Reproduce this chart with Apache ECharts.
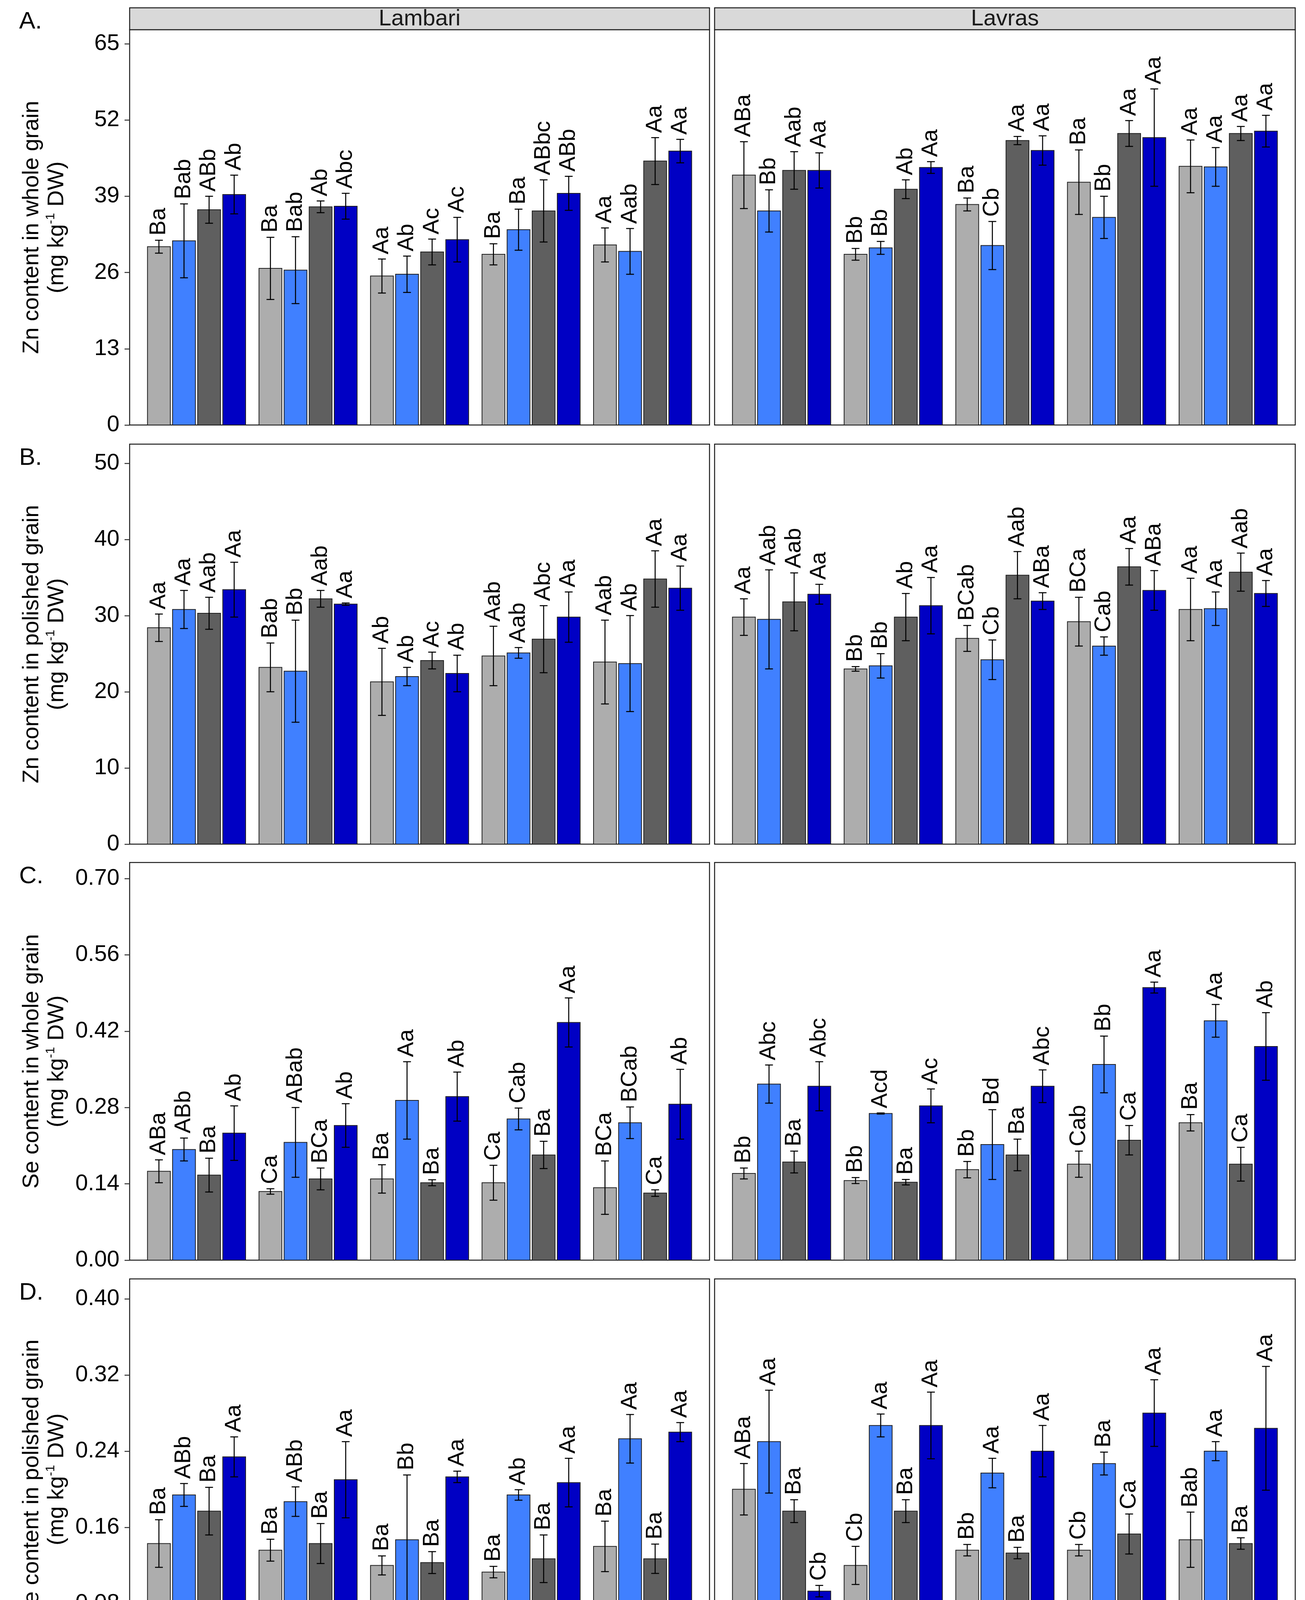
<!DOCTYPE html>
<html>
<head>
<meta charset="utf-8">
<script src="https://cdn.jsdelivr.net/npm/echarts@6.0.0/dist/echarts.min.js"></script>
<style>
html, body { margin: 0; padding: 0; background: #fff; }
#main { width: 3342px; height: 4536px; }
</style>
</head>
<body>
<div id="main"></div>
<script>
// categories and treatments
var cultivars = ['BRS\nEsmeralda', 'CMG\n2188', 'CMG ERF\n221-16', 'CMG ERF\n221-19', 'CMG ERF\n85-15'];
var treatments = ['Control', 'Selenium', 'Zinc', 'Zinc + Selenium'];
var locations = ['Lambari', 'Lavras'];
var colors = ['#ADADAD', '#4080FF', '#5F5F5F', '#0000C4'];

// rows = cultivar, columns = treatment (Control, Selenium, Zinc, Zinc + Selenium)
// A. Zn content in whole grain
var znWholeLambariMean = [[30.4, 31.4, 36.7, 39.3], [26.7, 26.4, 37.2, 37.3], [25.4, 25.7, 29.5, 31.6], [29.1, 33.3, 36.5, 39.5], [30.7, 29.6, 45.0, 46.7]];
var znWholeLambariSd = [[1.1, 6.3, 2.3, 3.3], [5.3, 5.7, 1.0, 2.2], [2.9, 3.1, 2.2, 3.8], [1.8, 3.5, 5.3, 2.9], [2.9, 3.9, 4.0, 2.0]];
var znWholeLambariLetters = [['Ba', 'Bab', 'ABb', 'Ab'], ['Ba', 'Bab', 'Ab', 'Abc'], ['Aa', 'Ab', 'Ac', 'Ac'], ['Ba', 'Ba', 'ABbc', 'ABb'], ['Aa', 'Aab', 'Aa', 'Aa']];
var znWholeLavrasMean = [[42.6, 36.5, 43.4, 43.4], [29.1, 30.2, 40.2, 43.9], [37.6, 30.6, 48.5, 46.8], [41.4, 35.4, 49.7, 49.0], [44.1, 44.0, 49.7, 50.1]];
var znWholeLavrasSd = [[5.7, 3.6, 3.2, 3.0], [1.0, 1.1, 1.6, 1.0], [1.1, 4.1, 0.7, 2.5], [5.5, 3.6, 2.2, 8.3], [4.5, 3.3, 1.2, 2.7]];
var znWholeLavrasLetters = [['ABa', 'Bb', 'Aab', 'Aa'], ['Bb', 'Bb', 'Ab', 'Aa'], ['Ba', 'Cb', 'Aa', 'Aa'], ['Ba', 'Bb', 'Aa', 'Aa'], ['Aa', 'Aa', 'Aa', 'Aa']];

// B. Zn content in polished grain
var znPolLambariMean = [[28.4, 30.8, 30.3, 33.4], [23.2, 22.7, 32.2, 31.5], [21.3, 22.0, 24.1, 22.4], [24.7, 25.1, 26.9, 29.8], [23.9, 23.7, 34.8, 33.6]];
var znPolLambariSd = [[1.8, 2.5, 2.1, 3.6], [3.2, 6.7, 1.1, 0.15], [4.4, 1.2, 1.1, 2.4], [3.9, 0.7, 4.4, 3.3], [5.5, 6.3, 3.7, 2.9]];
var znPolLambariLetters = [['Aa', 'Aa', 'Aab', 'Aa'], ['Bab', 'Bb', 'Aab', 'Aa'], ['Ab', 'Ab', 'Ac', 'Ab'], ['Aab', 'Aab', 'Abc', 'Aa'], ['Aab', 'Ab', 'Aa', 'Aa']];
var znPolLavrasMean = [[29.8, 29.5, 31.8, 32.8], [23.0, 23.4, 29.8, 31.3], [27.0, 24.2, 35.3, 31.9], [29.2, 26.0, 36.4, 33.3], [30.8, 30.9, 35.7, 32.9]];
var znPolLavrasSd = [[2.4, 6.5, 3.8, 1.3], [0.3, 1.6, 3.1, 3.7], [1.7, 2.6, 3.1, 1.1], [3.2, 1.2, 2.4, 2.6], [4.1, 2.2, 2.5, 1.7]];
var znPolLavrasLetters = [['Aa', 'Aab', 'Aab', 'Aa'], ['Bb', 'Bb', 'Ab', 'Aa'], ['BCab', 'Cb', 'Aab', 'ABa'], ['BCa', 'Cab', 'Aa', 'ABa'], ['Aa', 'Aa', 'Aab', 'Aa']];

// C. Se content in whole grain
var seWholeLambariMean = [[0.163, 0.203, 0.156, 0.233], [0.126, 0.216, 0.149, 0.247], [0.149, 0.293, 0.142, 0.300], [0.142, 0.259, 0.193, 0.436], [0.133, 0.252, 0.123, 0.286]];
var seWholeLambariSd = [[0.021, 0.021, 0.031, 0.050], [0.005, 0.064, 0.020, 0.040], [0.026, 0.071, 0.0055, 0.045], [0.032, 0.020, 0.025, 0.045], [0.049, 0.029, 0.006, 0.064]];
var seWholeLambariLetters = [['ABa', 'ABb', 'Ba', 'Ab'], ['Ca', 'ABab', 'BCa', 'Ab'], ['Ba', 'Aa', 'Ba', 'Ab'], ['Ca', 'Cab', 'Ba', 'Aa'], ['BCa', 'BCab', 'Ca', 'Ab']];
var seWholeLavrasMean = [[0.159, 0.323, 0.180, 0.319], [0.146, 0.269, 0.143, 0.283], [0.166, 0.212, 0.193, 0.319], [0.176, 0.359, 0.220, 0.500], [0.252, 0.439, 0.176, 0.392]];
var seWholeLavrasSd = [[0.010, 0.035, 0.020, 0.045], [0.0055, 0.001, 0.005, 0.031], [0.015, 0.064, 0.029, 0.030], [0.024, 0.052, 0.027, 0.010], [0.015, 0.030, 0.031, 0.062]];
var seWholeLavrasLetters = [['Bb', 'Abc', 'Ba', 'Abc'], ['Bb', 'Acd', 'Ba', 'Ac'], ['Bb', 'Bd', 'Ba', 'Abc'], ['Cab', 'Bb', 'Ca', 'Aa'], ['Ba', 'Aa', 'Ca', 'Ab']];

// D. Se content in polished grain
var sePolLambariMean = [[0.143, 0.194, 0.177, 0.234], [0.136, 0.187, 0.143, 0.210], [0.120, 0.147, 0.123, 0.213], [0.113, 0.194, 0.127, 0.207], [0.140, 0.253, 0.127, 0.260]];
var sePolLambariSd = [[0.025, 0.012, 0.025, 0.021], [0.0115, 0.0155, 0.021, 0.040], [0.010, 0.068, 0.0115, 0.006], [0.006, 0.0055, 0.025, 0.0255], [0.0265, 0.0255, 0.0154, 0.010]];
var sePolLambariLetters = [['Ba', 'ABb', 'Ba', 'Aa'], ['Ba', 'ABb', 'Ba', 'Aa'], ['Ba', 'Bb', 'Ba', 'Aa'], ['Ba', 'Ab', 'Ba', 'Aa'], ['Ba', 'Aa', 'Ba', 'Aa']];
var sePolLavrasMean = [[0.200, 0.250, 0.177, 0.093], [0.120, 0.267, 0.177, 0.267], [0.136, 0.217, 0.133, 0.240], [0.136, 0.227, 0.153, 0.280], [0.147, 0.240, 0.143, 0.264]];
var sePolLavrasSd = [[0.027, 0.054, 0.012, 0.006], [0.020, 0.012, 0.012, 0.035], [0.006, 0.0155, 0.006, 0.027], [0.006, 0.012, 0.021, 0.035], [0.029, 0.010, 0.006, 0.065]];
var sePolLavrasLetters = [['ABa', 'Aa', 'Ba', 'Cb'], ['Cb', 'Aa', 'Ba', 'Aa'], ['Bb', 'Aa', 'Ba', 'Aa'], ['Cb', 'Ba', 'Ca', 'Aa'], ['Bab', 'Aa', 'Ba', 'Aa']];

// y tick labels per row
var ticksA = [0, 13, 26, 39, 52, 65];
var ticksB = [0, 10, 20, 30, 40, 50];
var ticksC = [0, 0.14, 0.28, 0.42, 0.56, 0.70];
var ticksD = [0, 0.08, 0.16, 0.24, 0.32, 0.40];

var FONT = "'Liberation Sans', Arial, Helvetica, sans-serif";

var rows = [
  {tag: 'A.', title: 'Zn content in whole grain', ticks: ticksA, max: 67.4, dec: 0,
   data: [[znWholeLambariMean, znWholeLambariSd, znWholeLambariLetters], [znWholeLavrasMean, znWholeLavrasSd, znWholeLavrasLetters]]},
  {tag: 'B.', title: 'Zn content in polished grain', ticks: ticksB, max: 52.5, dec: 0,
   data: [[znPolLambariMean, znPolLambariSd, znPolLambariLetters], [znPolLavrasMean, znPolLavrasSd, znPolLavrasLetters]]},
  {tag: 'C.', title: 'Se content in whole grain', ticks: ticksC, max: 0.7294, dec: 2,
   data: [[seWholeLambariMean, seWholeLambariSd, seWholeLambariLetters], [seWholeLavrasMean, seWholeLavrasSd, seWholeLavrasLetters]]},
  {tag: 'D.', title: 'Se content in polished grain', ticks: ticksD, max: 0.4209, dec: 2,
   data: [[sePolLambariMean, sePolLambariSd, sePolLambariLetters], [sePolLavrasMean, sePolLavrasSd, sePolLavrasLetters]]}
];

// layout (pixels)
var rowTop = [76, 1137, 2208, 3274];
var rowHeight = [1012, 1024, 1018, 1026];
var colLeft = [332, 1830];
var colWidth = [1485, 1487];

var SLOT = 0.225, BARW = 0.205, CAP = 0.07;

function makeSeries(g, t, mean, sd, letters) {
  var data = [];
  for (var i = 0; i < cultivars.length; i++) {
    data.push([i + 1, mean[i][t], sd[i][t]]);
  }
  return {
    type: 'custom',
    name: treatments[t],
    xAxisIndex: g,
    yAxisIndex: g,
    encode: {x: 0, y: 1},
    itemStyle: {color: colors[t], borderColor: '#1f1f1f', borderWidth: 2},
    clip: false,
    data: data,
    renderItem: function (params, api) {
      var xv = api.value(0), m = api.value(1), e = api.value(2);
      var base = api.coord([xv, 0]);
      var top = api.coord([xv, m]);
      var hi = api.coord([xv, m + e]);
      var lo = api.coord([xv, m - e]);
      var slot = api.size([SLOT, 0])[0];
      var bw = api.size([BARW, 0])[0];
      var cap = api.size([CAP, 0])[0];
      var cx = base[0] + (t - 1.5) * slot;
      var lineSt = {stroke: '#000', lineWidth: 2.6};
      return {
        type: 'group',
        children: [
          {type: 'rect', shape: {x: cx - bw / 2, y: top[1], width: bw, height: base[1] - top[1]},
           style: {fill: colors[t], stroke: '#1f1f1f', lineWidth: 2}},
          {type: 'line', shape: {x1: cx, y1: hi[1], x2: cx, y2: lo[1]}, style: lineSt},
          {type: 'line', shape: {x1: cx - cap / 2, y1: hi[1], x2: cx + cap / 2, y2: hi[1]}, style: lineSt},
          {type: 'line', shape: {x1: cx - cap / 2, y1: lo[1], x2: cx + cap / 2, y2: lo[1]}, style: lineSt},
          {type: 'text', x: cx, y: hi[1] - 12, rotation: Math.PI / 2,
           style: {text: letters[params.dataIndex][t], fontSize: 58, fontFamily: FONT, fill: '#000',
                   align: 'left', verticalAlign: 'middle', textAlign: 'left', textVerticalAlign: 'middle'}}
        ]
      };
    }
  };
}

var grids = [], xAxes = [], yAxes = [], series = [], graphics = [];

rows.forEach(function (row, r) {
  for (var c = 0; c < 2; c++) {
    var g = r * 2 + c;
    grids.push({left: colLeft[c], top: rowTop[r], width: colWidth[c], height: rowHeight[r],
                show: true, borderColor: '#1a1a1a', borderWidth: 2.5, backgroundColor: '#fff',
                containLabel: false, outerBoundsMode: 'none'});
    xAxes.push({
      type: 'value', gridIndex: g, min: 0.4, max: 5.6, interval: 1,
      axisLine: {show: false}, axisTick: {show: false}, splitLine: {show: false},
      axisLabel: {
        show: r === 3, customValues: [1, 2, 3, 4, 5], fontSize: 58, lineHeight: 69,
        fontFamily: FONT, color: '#000', margin: 4,
        formatter: function (v) {
          var k = Math.round(v);
          return (Math.abs(v - k) < 1e-6 && k >= 1 && k <= 5) ? cultivars[k - 1] : '';
        }
      }
    });
    (function (row) {
      yAxes.push({
        type: 'value', gridIndex: g, min: 0, max: row.max, interval: row.ticks[1],
        axisLine: {show: false}, splitLine: {show: false},
        axisTick: {show: c === 0, length: 13, lineStyle: {color: '#333', width: 2.5}, customValues: row.ticks},
        axisLabel: {
          show: c === 0, customValues: row.ticks, fontSize: 58, fontFamily: FONT, color: '#000', margin: 26,
          formatter: function (v) { return v.toFixed(row.dec); }
        }
      });
    })(row);
    var d = row.data[c];
    for (var t = 0; t < 4; t++) {
      series.push(makeSeries(g, t, d[0], d[1], d[2]));
    }
  }

  // panel tag
  graphics.push({type: 'text', x: 49, y: (r === 0 ? 20 : rowTop[r]) + 36,
    style: {text: row.tag, fontSize: 62, fontFamily: FONT, fill: '#000',
            align: 'left', verticalAlign: 'middle', textAlign: 'left', textVerticalAlign: 'middle'}});
  // y axis title, two lines, rotated
  graphics.push({type: 'text', x: 114, y: rowTop[r] + rowHeight[r] / 2, rotation: Math.PI / 2,
    style: {text: row.title + '\n(mg kg{sup|-1} DW)', fontSize: 58, lineHeight: 64, fontFamily: FONT, fill: '#000',
            align: 'center', verticalAlign: 'middle', textAlign: 'center', textVerticalAlign: 'middle',
            rich: {sup: {fontSize: 32, lineHeight: 40, verticalAlign: 'top', fontFamily: FONT, fill: '#000'}}}});
});

// facet strips
locations.forEach(function (loc, c) {
  graphics.push({type: 'rect', shape: {x: colLeft[c], y: 20, width: colWidth[c], height: 56},
    style: {fill: '#D9D9D9', stroke: '#1a1a1a', lineWidth: 2.5}});
  graphics.push({type: 'text', x: colLeft[c] + colWidth[c] / 2, y: 49,
    style: {text: loc, fontSize: 58, fontFamily: FONT, fill: '#1a1a1a',
            align: 'center', verticalAlign: 'middle', textAlign: 'center', textVerticalAlign: 'middle'}});
});

// legend title
graphics.push({type: 'text', x: 903, y: 4490,
  style: {text: 'Treatments:', fontSize: 60, fontFamily: FONT, fill: '#000',
          align: 'left', verticalAlign: 'middle', textAlign: 'left', textVerticalAlign: 'middle'}});

var legendLeft = [1246, 1540, 1912, 2229];
var legends = treatments.map(function (name, i) {
  return {
    data: [name], left: legendLeft[i], top: 4464, padding: 0, icon: 'rect',
    itemWidth: 42, itemHeight: 52, selectedMode: false,
    itemStyle: {borderColor: '#1f1f1f', borderWidth: 2},
    textStyle: {fontSize: 60, fontFamily: FONT, color: '#000', padding: [0, 0, 0, 14]}
  };
});

var chart = echarts.init(document.getElementById('main'));
chart.setOption({
  backgroundColor: '#fff',
  animation: false,
  grid: grids,
  xAxis: xAxes,
  yAxis: yAxes,
  legend: legends,
  graphic: graphics,
  series: series
});
</script>
</body>
</html>
